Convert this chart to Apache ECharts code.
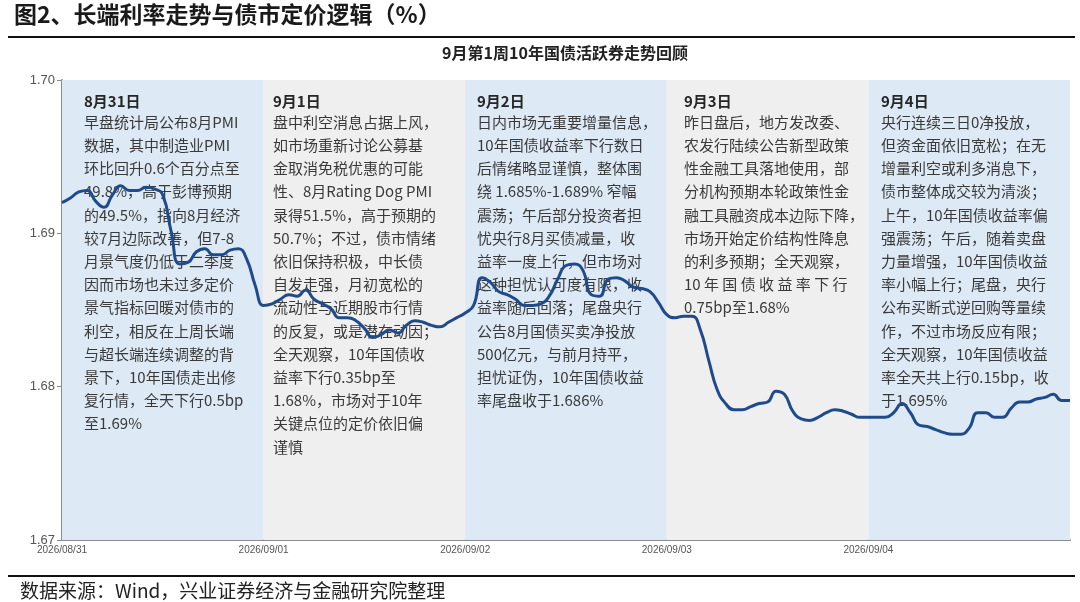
<!DOCTYPE html>
<html>
<head>
<meta charset="utf-8">
<script src="https://cdn.jsdelivr.net/npm/echarts@6/dist/echarts.min.js"></script>
<style>
html,body{margin:0;padding:0;background:#fff;}
#chart{width:1080px;height:602px;}
</style>
</head>
<body>
<div id="chart"></div>
<script>
// ---- data ----
var dayLabels = ['2026/08/31', '2026/09/01', '2026/09/02', '2026/09/03', '2026/09/04'];
var pointsPerDay = 24;
var yieldValues = [
  1.6920, 1.6923, 1.6927, 1.6928, 1.6921, 1.6917, 1.6925, 1.6931, 1.6928, 1.6928,
  1.6930, 1.6929, 1.6925, 1.6901, 1.6880, 1.6881, 1.6888, 1.6890, 1.6886, 1.6886,
  1.6889, 1.6890, 1.6883, 1.6866, 1.6853, 1.6854, 1.6857, 1.6860, 1.6859, 1.6863,
  1.6857, 1.6854, 1.6851, 1.6845, 1.6845, 1.6843, 1.6838, 1.6832, 1.6834, 1.6837,
  1.6835, 1.6840, 1.6843, 1.6842, 1.6840, 1.6839, 1.6842, 1.6845, 1.6848, 1.6853,
  1.6871, 1.6868, 1.6862, 1.6860, 1.6857, 1.6853, 1.6853, 1.6854, 1.6859, 1.6870,
  1.6879, 1.6880, 1.6876, 1.6860, 1.6859, 1.6870, 1.6871, 1.6869, 1.6865, 1.6864,
  1.6862, 1.6855, 1.6847, 1.6845, 1.6846, 1.6846, 1.6837, 1.6817, 1.6798, 1.6789,
  1.6785, 1.6785, 1.6787, 1.6789, 1.6790, 1.6797, 1.6795, 1.6784, 1.6779, 1.6778,
  1.6780, 1.6783, 1.6785, 1.6784, 1.6782, 1.6780, 1.6780, 1.6780, 1.6780, 1.6783,
  1.6789, 1.6783, 1.6775, 1.6774, 1.6772, 1.6770, 1.6769, 1.6769, 1.6773, 1.6783,
  1.6783, 1.6780, 1.6780, 1.6786, 1.6790, 1.6790, 1.6792, 1.6793, 1.6795, 1.6791,
  1.6791
];
var yTicks = [1.67, 1.68, 1.69, 1.70];
var titleText = '图2、长端利率走势与债市定价逻辑（%）';
var subTitleText = '9月第1周10年国债活跃券走势回顾';
var sourceText = '数据来源：Wind，兴业证券经济与金融研究院整理';
var panelDates = ['8月31日', '9月1日', '9月2日', '9月3日', '9月4日'];
var panelLines = [
  ['早盘统计局公布8月PMI', '数据，其中制造业PMI', '环比回升0.6个百分点至', '49.8%，高于彭博预期',
   '的49.5%，指向8月经济', '较7月边际改善，但7-8', '月景气度仍低于二季度', '因而市场也未过多定价',
   '景气指标回暖对债市的', '利空，相反在上周长端', '与超长端连续调整的背', '景下，10年国债走出修',
   '复行情，全天下行0.5bp', '至1.69%'],
  ['盘中利空消息占据上风，', '如市场重新讨论公募基', '金取消免税优惠的可能', '性、8月Rating Dog PMI',
   '录得51.5%，高于预期的', '50.7%；不过，债市情绪', '依旧保持积极，中长债', '自发走强，月初宽松的',
   '流动性与近期股市行情', '的反复，或是潜在动因；', '全天观察，10年国债收', '益率下行0.35bp至',
   '1.68%，市场对于10年', '关键点位的定价依旧偏', '谨慎'],
  ['日内市场无重要增量信息，', '10年国债收益率下行数日', '后情绪略显谨慎，整体围', '绕 1.685%-1.689% 窄幅',
   '震荡；午后部分投资者担', '忧央行8月买债减量，收', '益率一度上行，但市场对', '这种担忧认可度有限，收',
   '益率随后回落；尾盘央行', '公告8月国债买卖净投放', '500亿元，与前月持平，', '担忧证伪，10年国债收益',
   '率尾盘收于1.686%'],
  ['昨日盘后，地方发改委、', '农发行陆续公告新型政策', '性金融工具落地使用，部', '分机构预期本轮政策性金',
   '融工具融资成本边际下降，', '市场开始定价结构性降息', '的利多预期；全天观察，', '10 年 国 债 收 益 率 下 行',
   '0.75bp至1.68%'],
  ['央行连续三日0净投放，', '但资金面依旧宽松；在无', '增量利空或利多消息下，', '债市整体成交较为清淡；',
   '上午，10年国债收益率偏', '强震荡；午后，随着卖盘', '力量增强，10年国债收益', '率小幅上行；尾盘，央行',
   '公布买断式逆回购等量续', '作，不过市场反应有限；', '全天观察，10年国债收益', '率全天共上行0.15bp，收',
   '于1.695%']
];
var bandColors = ['#dde9f5', '#efefef', '#dde9f5', '#efefef', '#dde9f5'];

// ---- build ----
var categories = [];
for (var d = 0; d < dayLabels.length; d++) {
  for (var k = 0; k < pointsPerDay; k++) categories.push(dayLabels[d] + ' #' + k);
}
categories.push('end');

var bands = [];
for (var b = 0; b < dayLabels.length; b++) {
  bands.push([
    { xAxis: categories[b * pointsPerDay], itemStyle: { color: bandColors[b] } },
    { xAxis: categories[Math.min((b + 1) * pointsPerDay, categories.length - 1)] }
  ]);
}

var FONT = '"Noto Sans CJK SC", "Noto Sans", sans-serif';
var panelX = [84, 273, 477, 684, 881];
var graphics = [
  { type: 'text', left: 14, top: 3, z: 20,
    style: { text: titleText, font: 'bold 23px ' + FONT, fill: '#1a1a1a' } },
  { type: 'line', z: 20, shape: { x1: 8, y1: 37, x2: 1075, y2: 37 },
    style: { stroke: '#111', lineWidth: 2 } },
  { type: 'text', z: 20, x: 565, y: 53,
    style: { text: subTitleText, font: 'bold 16px ' + FONT, fill: '#222', align: 'center', verticalAlign: 'middle' } },
  { type: 'line', z: 20, shape: { x1: 8, y1: 576, x2: 1075, y2: 576 },
    style: { stroke: '#111', lineWidth: 2 } },
  { type: 'text', z: 20, x: 20, y: 591,
    style: { text: sourceText, font: '19px ' + FONT, fill: '#222', verticalAlign: 'middle' } }
];
for (var p = 0; p < panelDates.length; p++) {
  graphics.push({ type: 'text', z: 5, x: panelX[p], y: 101,
    style: { text: panelDates[p], font: 'bold 15px ' + FONT, fill: '#262626', verticalAlign: 'middle' } });
  graphics.push({ type: 'text', z: 5, x: panelX[p], y: 110.5,
    style: { text: panelLines[p].join('\n'), font: '15px ' + FONT, fill: '#3a3a3a',
      lineHeight: 23.2, verticalAlign: 'top' } });
}

var chart = echarts.init(document.getElementById('chart'), null, { renderer: 'canvas' });
chart.setOption({
  animation: false,
  backgroundColor: '#ffffff',
  textStyle: { fontFamily: FONT },
  grid: { left: 62, right: 10, top: 80, bottom: 62 },
  xAxis: {
    type: 'category',
    data: categories,
    boundaryGap: false,
    axisLine: { lineStyle: { color: '#8c8c8c', width: 2 } },
    axisTick: { show: false },
    axisLabel: {
      interval: function (idx) { return idx % pointsPerDay === 0 && idx < categories.length - 1; },
      formatter: function (v) { return v.split(' ')[0]; },
      color: '#555', fontSize: 10, fontFamily: 'Liberation Sans, sans-serif', margin: 5
    },
    splitLine: { show: false }
  },
  yAxis: {
    type: 'value',
    min: yTicks[0], max: yTicks[yTicks.length - 1], interval: 0.01,
    axisLine: { show: true, lineStyle: { color: '#8c8c8c', width: 2 } },
    axisTick: { show: true, length: 5, lineStyle: { color: '#8c8c8c' } },
    axisLabel: { formatter: function (v) { return v.toFixed(2); }, color: '#555', fontSize: 13,
      fontFamily: 'Liberation Sans, sans-serif', margin: 7 },
    splitLine: { show: false }
  },
  graphic: graphics,
  series: [
    {
      type: 'line', z: 1, data: [], silent: true,
      markArea: { silent: true, data: bands }
    },
    {
      type: 'line', z: 10, data: yieldValues, smooth: 0.5, symbol: 'none',
      lineStyle: { color: '#1f4b8a', width: 3 }
    }
  ]
});
</script>
</body>
</html>
